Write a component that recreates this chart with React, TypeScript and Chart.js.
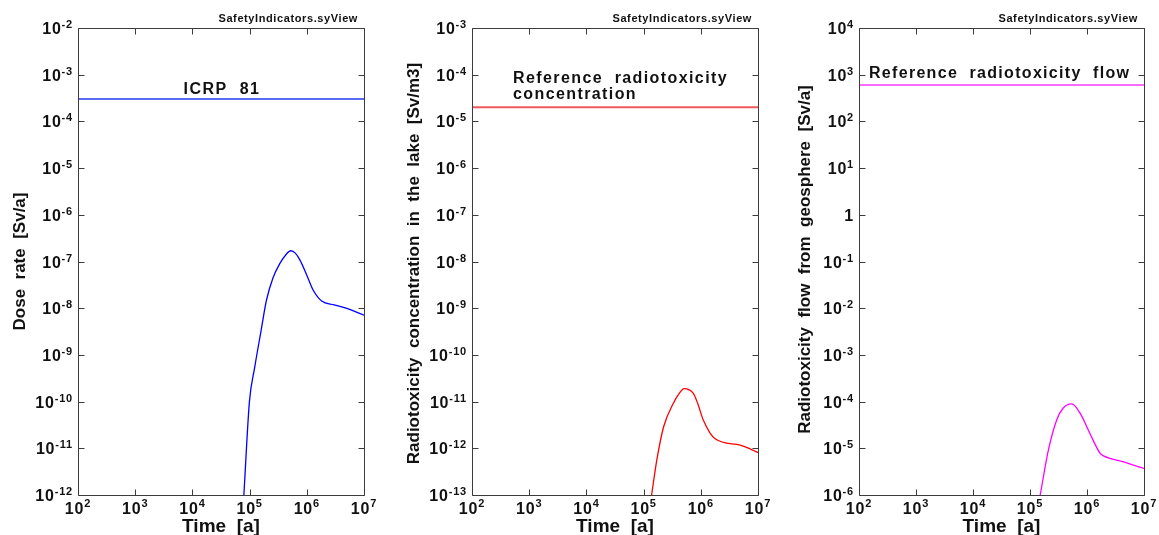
import React, { useEffect, useRef } from "react";
import { Chart, registerables } from "chart.js";

Chart.register(...registerables);

const FONT = '"Liberation Sans", Arial, Helvetica, sans-serif';

// Shared x axis (time, years)
const TIME_TICKS = [1e2, 1e3, 1e4, 1e5, 1e6, 1e7];

// Panel 1: dose rate
const DOSE_TIME = [7.94e4, 9.93e4, 1.23e5, 1.58e5, 1.97e5, 2.57e5, 3.39e5, 4.27e5, 5.25e5, 6.3e5, 7.6e5, 1.0e6, 1.29e6, 1.82e6, 3.0e6, 5.0e6, 1.0e7];
const DOSE_VALUES = [1e-12, 1e-10, 5.5e-10, 3.2e-9, 1.48e-8, 4.5e-8, 9.1e-8, 1.38e-7, 1.7e-7, 1.51e-7, 1.07e-7, 5.1e-8, 2.45e-8, 1.42e-8, 1.18e-8, 9.9e-9, 7.1e-9];
const DOSE_Y_EXP = [-12, -11, -10, -9, -8, -7, -6, -5, -4, -3, -2];
const ICRP_LIMIT = 3e-4;

// Panel 2: radiotoxicity concentration in the lake
const CONC_TIME = [1.38e5, 1.7e5, 2.24e5, 3.3e5, 4.2e5, 5.1e5, 7.4e5, 8.9e5, 1.1e6, 1.78e6, 4.9e6, 1.0e7];
const CONC_VALUES = [1e-13, 5.6e-13, 2.9e-12, 9.1e-12, 1.5e-11, 1.9e-11, 1.5e-11, 8.9e-12, 4.1e-12, 1.6e-12, 1.17e-12, 8.1e-13];
const CONC_Y_EXP = [-13, -12, -11, -10, -9, -8, -7, -6, -5, -4, -3];
const REF_CONC = 2e-5;

// Panel 3: radiotoxicity flow from geosphere
const FLOW_TIME = [1.51e5, 2.1e5, 2.95e5, 3.8e5, 5.4e5, 7.6e5, 1.12e6, 1.7e6, 1.95e6, 4.4e6, 1.0e7];
const FLOW_VALUES = [1e-6, 9.1e-6, 4.1e-5, 7.2e-5, 8.9e-5, 5.6e-5, 2.1e-5, 7.8e-6, 6.9e-6, 5.1e-6, 3.7e-6];
const FLOW_Y_EXP = [-6, -5, -4, -3, -2, -1, 0, 1, 2, 3, 4];
const REF_FLOW = 600;

const HEADER = "SafetyIndicators.syView";
const X_TITLE = "Time  [a]";

type Panel = {
  left: number;
  width: number;
  padL: number;
  padR: number;
  time: number[];
  values: number[];
  yExp: number[];
  refValue: number;
  color: string;
  refColor: string;
  yTitle: string;
  yTitleX: number;
  yTitleDy: number;
  refLabel: string[];
  refAlign: "center" | "left";
  refX: number;
  refY: number;
  refSpacing: string;
  headerRight: number;
};

const PANELS: Panel[] = [
  {
    left: 0, width: 390, padL: 78, padR: 26,
    time: DOSE_TIME, values: DOSE_VALUES, yExp: DOSE_Y_EXP, refValue: ICRP_LIMIT,
    color: "#0000ff", refColor: "#5b6af2",
    yTitle: "Dose  rate  [Sv/a]", yTitleX: 20, yTitleDy: 0,
    refLabel: ["ICRP  81"], refAlign: "center", refX: 222, refY: 94, refSpacing: "1.5px", headerRight: 358,
  },
  {
    left: 390, width: 380, padL: 82, padR: 12,
    time: CONC_TIME, values: CONC_VALUES, yExp: CONC_Y_EXP, refValue: REF_CONC,
    color: "#ff0000", refColor: "#ee5a5a",
    yTitle: "Radiotoxicity  concentration  in  the  lake  [Sv/m3]", yTitleX: 24, yTitleDy: 2,
    refLabel: ["Reference  radiotoxicity", "concentration"], refAlign: "left", refX: 123, refY: 83, refSpacing: "1.4px", headerRight: 362,
  },
  {
    left: 770, width: 389, padL: 89, padR: 15,
    time: FLOW_TIME, values: FLOW_VALUES, yExp: FLOW_Y_EXP, refValue: REF_FLOW,
    color: "#ff00ff", refColor: "#ff6cff",
    yTitle: "Radiotoxicity  flow  from  geosphere  [Sv/a]", yTitleX: 35, yTitleDy: -2,
    refLabel: ["Reference  radiotoxicity  flow"], refAlign: "left", refX: 99, refY: 78, refSpacing: "1.3px", headerRight: 368,
  },
];

const TOP = 28;
const BOTTOM_PAD = 40;
const HEIGHT = 535;

function setSpacing(ctx: any, v: string) {
  if ("letterSpacing" in ctx) ctx.letterSpacing = v;
}

function drawPow(ctx: CanvasRenderingContext2D, e: number, x: number, y: number, align: "right" | "center", supRise: number) {
  const main = e === 0 ? "1" : "10";
  const sup = e === 0 ? "" : e < 0 ? "-" + -e : String(e);
  setSpacing(ctx, "0.8px");
  ctx.font = `bold 16px ${FONT}`;
  const wm = ctx.measureText(main).width;
  ctx.font = `bold 11px ${FONT}`;
  const ws = sup ? ctx.measureText(sup).width : 0;
  const total = wm + ws;
  const start = align === "right" ? x - total : x - total / 2;
  ctx.textAlign = "left";
  ctx.textBaseline = "alphabetic";
  ctx.font = `bold 16px ${FONT}`;
  ctx.fillText(main, start, y);
  if (sup) {
    ctx.font = `bold 11px ${FONT}`;
    ctx.fillText(sup, start + wm, y - supRise);
  }
  setSpacing(ctx, "0px");
}

function makeDecor(p: Panel) {
  return {
    id: "decor",
    afterDraw(chart: any) {
      const ctx: CanvasRenderingContext2D = chart.ctx;
      const a = chart.chartArea;
      const xs = chart.scales.x;
      const ys = chart.scales.y;
      ctx.save();
      const L = Math.round(a.left) + 0.5;
      const R = Math.round(a.right) + 0.5;
      const T = Math.round(a.top) + 0.5;
      const B = Math.round(a.bottom) + 0.5;
      ctx.strokeStyle = "#3c3c3c";
      ctx.lineWidth = 1;
      ctx.beginPath();
      ctx.rect(L, T, R - L, B - T);
      ctx.stroke();
      ctx.beginPath();
      for (const t of TIME_TICKS) {
        const px = Math.round(xs.getPixelForValue(t)) + 0.5;
        ctx.moveTo(px, B);
        ctx.lineTo(px, B - 6);
        ctx.moveTo(px, T);
        ctx.lineTo(px, T + 6);
      }
      for (const e of p.yExp) {
        const py = Math.round(ys.getPixelForValue(Math.pow(10, e))) + 0.5;
        ctx.moveTo(L, py);
        ctx.lineTo(L + 6, py);
        ctx.moveTo(R, py);
        ctx.lineTo(R - 6, py);
      }
      ctx.stroke();

      ctx.fillStyle = "#111";
      for (const e of p.yExp) {
        const py = ys.getPixelForValue(Math.pow(10, e));
        drawPow(ctx, e, a.left - 5, py + 6, "right", 6);
      }
      for (const t of TIME_TICKS) {
        const px = xs.getPixelForValue(t);
        drawPow(ctx, Math.round(Math.log10(t)), px, a.bottom + 19, "center", 7);
      }
      ctx.font = `bold 19px ${FONT}`;
      ctx.textAlign = "center";
      ctx.textBaseline = "alphabetic";
      ctx.fillText(X_TITLE, (a.left + a.right) / 2, 532);
      ctx.save();
      ctx.translate(p.yTitleX, (a.top + a.bottom) / 2 + p.yTitleDy);
      ctx.rotate(-Math.PI / 2);
      ctx.font = `bold 17px ${FONT}`;
      ctx.textAlign = "center";
      ctx.textBaseline = "middle";
      ctx.fillText(p.yTitle, 0, 0);
      ctx.restore();
      ctx.font = `bold 11px ${FONT}`;
      setSpacing(ctx, "0.6px");
      ctx.textAlign = "right";
      ctx.textBaseline = "alphabetic";
      ctx.fillText(HEADER, p.headerRight, 22);
      ctx.font = `bold 16px ${FONT}`;
      setSpacing(ctx, p.refSpacing);
      ctx.textAlign = p.refAlign;
      p.refLabel.forEach((line, i) => {
        ctx.fillText(line, p.refX, p.refY + i * 16);
      });
      setSpacing(ctx, "0px");
      ctx.restore();
    },
  };
}

function PanelChart({ p }: { p: Panel }) {
  const ref = useRef<HTMLCanvasElement | null>(null);
  useEffect(() => {
    if (!ref.current) return;
    const curve = p.time.map((t, i) => ({ x: t, y: p.values[i] }));
    const refLine = [
      { x: TIME_TICKS[0], y: p.refValue },
      { x: TIME_TICKS[TIME_TICKS.length - 1], y: p.refValue },
    ];
    const chart = new Chart(ref.current, {
      type: "line",
      data: {
        datasets: [
          { data: refLine, borderColor: p.refColor, borderWidth: 2, pointRadius: 0, tension: 0 },
          { data: curve, borderColor: p.color, borderWidth: 1.3, pointRadius: 0, cubicInterpolationMode: "monotone" },
        ],
      },
      options: {
        responsive: false,
        animation: false,
        devicePixelRatio: 1,
        layout: { padding: { left: p.padL, right: p.padR, top: TOP, bottom: BOTTOM_PAD } },
        plugins: { legend: { display: false }, tooltip: { enabled: false }, title: { display: false } },
        events: [],
        scales: {
          x: { type: "logarithmic", min: TIME_TICKS[0], max: TIME_TICKS[TIME_TICKS.length - 1], display: false },
          y: { type: "logarithmic", min: Math.pow(10, p.yExp[0]), max: Math.pow(10, p.yExp[p.yExp.length - 1]), display: false },
        },
      } as any,
      plugins: [makeDecor(p) as any],
    });
    return () => chart.destroy();
  }, [p]);
  return (
    <div style={{ position: "absolute", left: p.left, top: 0, width: p.width, height: HEIGHT }}>
      <canvas ref={ref} width={p.width} height={HEIGHT} style={{ display: "block" }} />
    </div>
  );
}

export default function App() {
  return (
    <div style={{ position: "absolute", left: 0, top: 0, width: 1159, height: HEIGHT, background: "#fff", overflow: "hidden" }}>
      {PANELS.map((p, i) => (
        <PanelChart key={i} p={p} />
      ))}
    </div>
  );
}
